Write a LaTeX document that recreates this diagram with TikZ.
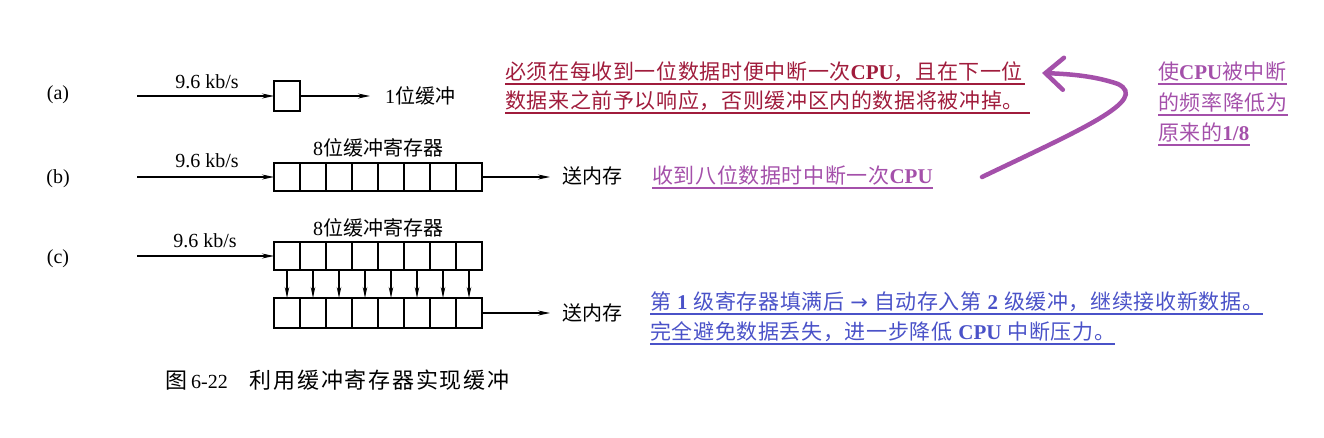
\documentclass[tikz,border=0pt]{standalone}
\usepackage{fontspec}
\setmainfont{Liberation Serif}
\newfontfamily\cjk{Noto Sans CJK SC}
\newfontfamily\cjknote[LetterSpace=3]{Noto Sans CJK SC}
\newfontfamily\cjkcap[LetterSpace=8]{Noto Sans CJK SC}
\newfontfamily\symfont{DejaVu Sans}
\usetikzlibrary{arrows.meta}
\definecolor{redc}{HTML}{A01C3C}
\definecolor{purc}{HTML}{A450AA}
\definecolor{bluc}{HTML}{4A52C8}
\begin{document}
\begin{tikzpicture}[x=1pt,y=-1pt,
  cell/.style={draw,line width=1.6pt,minimum width=26pt,minimum height=28pt,inner sep=0pt,outer sep=0pt},
  flow/.style={line width=1.2pt,-{Stealth[length=12pt,width=5pt]}},
  flowsmall/.style={line width=1.2pt,-{Stealth[length=11pt,width=4.5pt]}},
  lbl/.style={inner sep=0pt,font=\fontsize{20}{24}\selectfont},
  cjklbl/.style={inner sep=0pt,font=\cjk\fontsize{20}{24}\selectfont},
  note/.style={inner sep=0pt,anchor=base west,font=\cjknote\fontsize{21}{25}\selectfont},
  uline/.style={line width=1.6pt}
]
\useasboundingbox (0,0) rectangle (1324,437);

% ---------- (a)
\node[lbl] (la) at (58,95) {(a)};
\coordinate (ina) at (137,96);
\node[cell,minimum height=30pt] (ba) at (287,96) {};
\coordinate (outa) at (370,96);
\draw[flow] (ina) -- (ba.west);
\draw[flow] (ba.east) -- (outa);
\node[lbl,anchor=base] (ra) at (207,88) {9.6 kb/s};
\node[cjklbl,anchor=west] (ta) at (385,96) {{\rmfamily 1}位缓冲};

% ---------- (b)
\node[lbl] (lb) at (58,179) {(b)};
\coordinate (inb) at (137,177);
\foreach \i in {1,...,8} \node[cell] (b\i) at ({274+13+26*(\i-1)},177) {};
\coordinate (outb) at (550,177);
\draw[flow] (inb) -- (b1.west);
\draw[flow] (b8.east) -- (outb);
\node[lbl,anchor=base] (rb) at (207,167) {9.6 kb/s};
\node[cjklbl] (hb) at (378,148) {{\rmfamily 8}位缓冲寄存器};
\node[cjklbl,anchor=west] (sb) at (562,176) {送内存};

% ---------- (c)
\node[lbl] (lc) at (58,259) {(c)};
\coordinate (inc) at (137,256);
\foreach \i in {1,...,8} {
  \node[cell] (t\i) at ({274+13+26*(\i-1)},256) {};
  \node[cell,minimum height=30pt] (u\i) at ({274+13+26*(\i-1)},313) {};
}
\foreach \i in {1,...,8} \draw[flowsmall] (t\i.south) -- (u\i.north);
\coordinate (outc) at (550,313);
\draw[flow] (inc) -- (t1.west);
\draw[flow] (u8.east) -- (outc);
\node[lbl,anchor=base] (rc) at (205,247) {9.6 kb/s};
\node[cjklbl] (hc) at (378,228) {{\rmfamily 8}位缓冲寄存器};
\node[cjklbl,anchor=west] (sc) at (562,313) {送内存};

% ---------- caption
\node[inner sep=0pt,anchor=base west,font=\fontsize{22}{26}\selectfont] (cap) at (165,388)
  {{\cjkcap 图}\hspace{4pt}{\fontsize{20}{24}\selectfont 6-22}\hspace{22pt}{\cjkcap 利用缓冲寄存器实现缓冲}};

% ---------- red note
\node[note,text=redc] (r1) at (505,79) {必须在每收到一位数据时便中断一次{\rmfamily\bfseries CPU}，且在下一位};
\node[note,text=redc] (r2) at (505,108) {数据来之前予以响应，否则缓冲区内的数据将被冲掉。};
\draw[uline,redc] ([yshift=-5pt]r1.base west) -- ([yshift=-5pt,xshift=2pt]r1.base east);
\draw[uline,redc] ([yshift=-5pt]r2.base west) -- ([yshift=-5pt,xshift=6pt]r2.base east);

% ---------- purple notes
\node[note,text=purc] (p1) at (652,183) {收到八位数据时中断一次{\rmfamily\bfseries CPU}};
\draw[uline,purc] ([yshift=-5pt]p1.base west) -- ([yshift=-5pt]p1.base east);

\node[note,text=purc] (q1) at (1158,79) {使{\rmfamily\bfseries CPU}被中断};
\node[note,text=purc] (q2) at (1158,110) {的频率降低为};
\node[note,text=purc] (q3) at (1158,140) {原来的{\rmfamily\bfseries 1/8}};
\foreach \n in {q1,q2,q3}
  \draw[uline,purc] ([yshift=-5pt]\n.base west) -- ([yshift=-5pt]\n.base east);

% curved purple arrow
\coordinate (ctail) at (982,177);
\coordinate (ctip) at (1042,73);
\draw[purc,line width=4.5pt,line cap=round,
  -{Straight Barb[length=18pt,width=32pt,line cap=round]}]
  (ctail) .. controls (1080,130) and (1150,100) .. (1118,84)
          .. controls (1095,76) and (1070,74) .. (ctip);

% ---------- blue note
\node[note,text=bluc] (bl1) at (650,309)
  {第\hspace{6pt}{\rmfamily\bfseries 1}\hspace{6pt}级寄存器填满后\hspace{6pt}{\symfont →}\hspace{6pt}自动存入第\hspace{6pt}{\rmfamily\bfseries 2}\hspace{6pt}级缓冲，继续接收新数据。};
\node[note,text=bluc] (bl2) at (650,339)
  {完全避免数据丢失，进一步降低\hspace{6pt}{\rmfamily\bfseries CPU}\hspace{6pt}中断压力。};
\draw[uline,bluc] ([yshift=-5pt]bl1.base west) -- ([yshift=-5pt]bl1.base east);
\draw[uline,bluc] ([yshift=-5pt]bl2.base west) -- ([yshift=-5pt]bl2.base east);
\end{tikzpicture}
\end{document}
